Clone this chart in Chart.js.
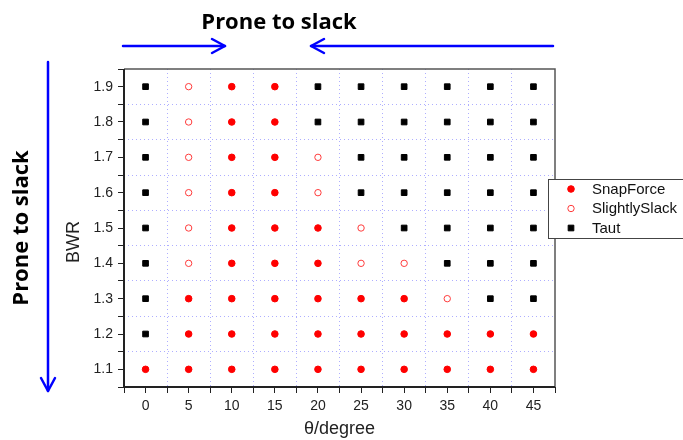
<!DOCTYPE html>
<html>
<head>
<meta charset="utf-8">
<script src="https://cdn.jsdelivr.net/npm/chart.js@4/dist/chart.umd.min.js"></script>
<style>
  html, body { margin: 0; padding: 0; background: #fff; }
  #wrap { width: 683px; height: 440px; position: relative; }
</style>
</head>
<body>
<div id="wrap"><canvas id="c" width="683" height="440"></canvas></div>
<script>
// Inclination angle (degrees) and blade width ratio grid
const thetaDeg = [0, 5, 10, 15, 20, 25, 30, 35, 40, 45];
const bwrValues = [1.9, 1.8, 1.7, 1.6, 1.5, 1.4, 1.3, 1.2, 1.1];

// Observed cable state, one row per BWR value, one letter per angle
// F = SnapForce, S = SlightlySlack, T = Taut
const stateRows = [
  'TSFFTTTTTT', // 1.9
  'TSFFTTTTTT', // 1.8
  'TSFFSTTTTT', // 1.7
  'TSFFSTTTTT', // 1.6
  'TSFFFSTTTT', // 1.5
  'TSFFFSSTTT', // 1.4
  'TFFFFFFSTT', // 1.3
  'TFFFFFFFFF', // 1.2
  'FFFFFFFFFF'  // 1.1
];

const seriesNames = ['SnapForce', 'SlightlySlack', 'Taut'];
const seriesCodes = ['F', 'S', 'T'];

// Labelled ticks on each axis
const xTickValues = [0, 5, 10, 15, 20, 25, 30, 35, 40, 45];
const yTickValues = [1.1, 1.2, 1.3, 1.4, 1.5, 1.6, 1.7, 1.8, 1.9];

const FONT = "'Liberation Sans', Arial, sans-serif";
const GRID_BLUE = 'rgba(120,120,255,0.6)';

function pointsFor(code) {
  const pts = [];
  stateRows.forEach((row, i) => {
    for (let j = 0; j < thetaDeg.length; j++) {
      if (row[j] === code) pts.push({ x: thetaDeg[j], y: bwrValues[i] });
    }
  });
  return pts;
}

const styles = [
  { pointStyle: 'circle', pointRadius: 3.3, backgroundColor: '#ff0000', borderColor: '#ff0000', pointBorderWidth: 1 },
  { pointStyle: 'circle', pointRadius: 3.2, backgroundColor: 'rgba(0,0,0,0)', borderColor: '#ff3b3b', pointBorderWidth: 1 },
  { pointStyle: 'rect', pointRadius: 4, backgroundColor: '#000000', borderColor: '#000000', pointBorderWidth: 1 }
];

const datasets = seriesCodes.map((code, k) => ({
  label: seriesNames[k],
  data: pointsFor(code),
  pointStyle: styles[k].pointStyle,
  pointRadius: styles[k].pointRadius,
  pointHoverRadius: styles[k].pointRadius,
  pointBackgroundColor: styles[k].backgroundColor,
  pointBorderColor: styles[k].borderColor,
  pointBorderWidth: styles[k].pointBorderWidth,
  backgroundColor: styles[k].backgroundColor,
  borderColor: styles[k].borderColor,
  showLine: false
}));

// Major ticks plus the half-step positions between them
function withHalfSteps(values, half) {
  const out = [];
  values.forEach(v => { out.push(+(v - half).toFixed(3)); out.push(v); });
  out.push(+(values[values.length - 1] + half).toFixed(3));
  return out.map(v => ({ value: v }));
}
function isLabelled(list, v) {
  return list.some(t => Math.abs(t - v) < 1e-6);
}

function arrow(ctx, x1, y1, x2, y2) {
  const ang = Math.atan2(y2 - y1, x2 - x1);
  const len = 13, spread = 7;
  ctx.beginPath();
  ctx.moveTo(x1, y1);
  ctx.lineTo(x2, y2);
  ctx.stroke();
  const bx = x2 - len * Math.cos(ang), by = y2 - len * Math.sin(ang);
  const px = -Math.sin(ang) * spread, py = Math.cos(ang) * spread;
  ctx.beginPath();
  ctx.moveTo(bx + px, by + py);
  ctx.lineTo(x2, y2);
  ctx.lineTo(bx - px, by - py);
  ctx.stroke();
}

const decorations = {
  id: 'decorations',
  afterDraw(chart) {
    const ctx = chart.ctx;
    const a = chart.chartArea;
    ctx.save();

    // Plot frame
    ctx.strokeStyle = '#555';
    ctx.lineWidth = 1.5;
    ctx.beginPath();
    ctx.moveTo(a.left, a.top);
    ctx.lineTo(a.right, a.top);
    ctx.lineTo(a.right, a.bottom);
    ctx.stroke();
    ctx.strokeStyle = '#222';
    ctx.lineWidth = 2;
    ctx.beginPath();
    ctx.moveTo(a.left, a.top);
    ctx.lineTo(a.left, a.bottom);
    ctx.lineTo(a.right, a.bottom);
    ctx.stroke();

    // Y axis title
    ctx.save();
    ctx.translate(79, 242);
    ctx.rotate(-Math.PI / 2);
    ctx.fillStyle = '#222';
    ctx.font = '18px ' + FONT;
    ctx.textAlign = 'center';
    ctx.textBaseline = 'alphabetic';
    ctx.fillText('BWR', 0, 0);
    ctx.restore();

    // Legend box
    const lx = 548.5, ly = 179.5, lw = 140, lh = 59;
    ctx.fillStyle = '#fff';
    ctx.fillRect(lx, ly, lw, lh);
    ctx.strokeStyle = '#444';
    ctx.lineWidth = 1;
    ctx.strokeRect(lx, ly, lw, lh);
    chart.data.datasets.forEach((ds, i) => {
      const cy = 189 + i * 19.5;
      ctx.fillStyle = ds.pointBackgroundColor;
      ctx.strokeStyle = ds.pointBorderColor;
      ctx.lineWidth = ds.pointBorderWidth;
      Chart.helpers.drawPoint(ctx, { pointStyle: ds.pointStyle, radius: ds.pointRadius, rotation: 0, borderWidth: ds.pointBorderWidth }, 571, cy);
      ctx.fillStyle = '#111';
      ctx.font = '15px ' + FONT;
      ctx.textAlign = 'left';
      ctx.textBaseline = 'middle';
      ctx.fillText(ds.label, 592, cy + 0.5);
    });

    // "Prone to slack" annotations with arrows
    ctx.fillStyle = '#000';
    ctx.font = "bold 22px 'Open Sans', 'DejaVu Sans', sans-serif";
    ctx.textAlign = 'center';
    ctx.textBaseline = 'alphabetic';
    ctx.fillText('Prone to slack', 279, 29);

    ctx.save();
    ctx.translate(28, 228);
    ctx.rotate(-Math.PI / 2);
    ctx.fillText('Prone to slack', 0, 0);
    ctx.restore();

    ctx.strokeStyle = '#0000ff';
    ctx.lineWidth = 2.5;
    ctx.lineCap = 'round';
    ctx.lineJoin = 'round';
    arrow(ctx, 123, 46, 225, 46);
    arrow(ctx, 553, 46, 311, 46);
    arrow(ctx, 48, 62, 48, 391);

    ctx.restore();
  }
};

new Chart(document.getElementById('c'), {
  type: 'scatter',
  data: { datasets },
  options: {
    responsive: false,
    animation: false,
    events: [],
    layout: { padding: { left: 60, top: 69, right: 128, bottom: 0 } },
    plugins: { legend: { display: false }, tooltip: { enabled: false }, title: { display: false } },
    scales: {
      x: {
        type: 'linear',
        min: -2.5,
        max: 47.5,
        afterBuildTicks: s => { s.ticks = withHalfSteps(xTickValues, 2.5); },
        afterFit: s => { s.height = 53; },
        ticks: {
          autoSkip: false,
          maxRotation: 0,
          padding: 5,
          color: '#222',
          font: { family: FONT, size: 14 },
          callback: v => isLabelled(xTickValues, v) ? String(v) : ''
        },
        grid: {
          color: c => (c.tick && !isLabelled(xTickValues, c.tick.value) && c.tick.value > -2.5 && c.tick.value < 47.5) ? GRID_BLUE : 'rgba(0,0,0,0)',
          tickColor: '#222',
          tickLength: 6,
          tickWidth: 1,
          lineWidth: 1,
          borderDash: [1, 3],
          tickBorderDash: []
        },
        border: { display: false, dash: [1, 3] },
        title: {
          display: true,
          text: 'θ/degree',
          color: '#222',
          font: { family: FONT, size: 18 },
          padding: { top: 2, bottom: 0 }
        }
      },
      y: {
        type: 'linear',
        min: 1.05,
        max: 1.95,
        afterBuildTicks: s => { s.ticks = withHalfSteps(yTickValues, 0.05); },
        afterFit: s => { s.width = 64; },
        ticks: {
          autoSkip: false,
          padding: 5,
          color: '#222',
          font: { family: FONT, size: 14 },
          callback: v => isLabelled(yTickValues, v) ? v.toFixed(1) : ''
        },
        grid: {
          color: c => (c.tick && !isLabelled(yTickValues, c.tick.value) && c.tick.value > 1.06 && c.tick.value < 1.94) ? GRID_BLUE : 'rgba(0,0,0,0)',
          tickColor: '#222',
          tickLength: 6,
          tickWidth: 1,
          lineWidth: 1,
          borderDash: [1, 3],
          tickBorderDash: []
        },
        border: { display: false, dash: [1, 3] },
        title: { display: false }
      }
    }
  },
  plugins: [decorations]
});
</script>
</body>
</html>
